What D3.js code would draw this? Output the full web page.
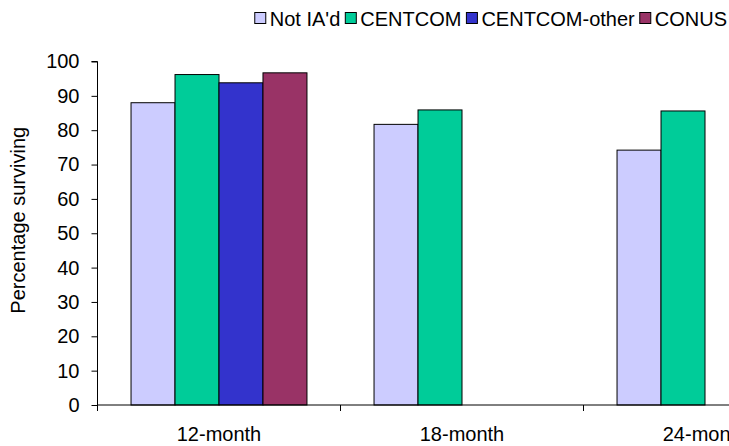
<!DOCTYPE html>
<html>
<head>
<meta charset="utf-8">
<script src="https://cdnjs.cloudflare.com/ajax/libs/d3/7.8.5/d3.min.js"></script>
<style>
  html, body { margin: 0; padding: 0; background: #fff; overflow: hidden; }
  svg { display: block; font-family: "Liberation Sans", Arial, sans-serif; }
</style>
</head>
<body>
<svg id="chart" width="729" height="446"></svg>
<script>
const categories = ["12-month", "18-month", "24-month"];
const seriesNames = ["Not IA'd", "CENTCOM", "CENTCOM-other", "CONUS"];
const seriesColors = ["#CCCCFF", "#00CC99", "#3333CC", "#993366"];
// values per series, aligned with categories (null = no bar)
const notIAd = [88.0, 81.7, 74.2];
const centcom = [96.2, 85.9, 85.6];
const centcomOther = [93.8, null, null];
const conus = [96.7, null, null];
const yTicks = [0, 10, 20, 30, 40, 50, 60, 70, 80, 90, 100];

const seriesValues = [notIAd, centcom, centcomOther, conus];
const FS = 20;

const svg = d3.select("#chart");
const pLeft = 97.5, pRight = 826.5, pTop = 61.5, pBottom = 405;

const x0 = d3.scaleBand().domain(categories).range([pLeft, pRight])
  .paddingInner(0.276).paddingOuter(0.138);
const x1 = d3.scaleBand().domain(seriesNames).range([0, x0.bandwidth()]).padding(0);
const y = d3.scaleLinear().domain([0, 100]).range([pBottom, pTop]);

// bars
const data = [];
categories.forEach((c, ci) => {
  seriesNames.forEach((s, si) => {
    const v = seriesValues[si][ci];
    if (v != null) data.push({ c, s, v, color: seriesColors[si] });
  });
});
svg.append("g").selectAll("rect").data(data).join("rect")
  .attr("x", d => x0(d.c) + x1(d.s))
  .attr("y", d => y(d.v))
  .attr("width", x1.bandwidth())
  .attr("height", d => y(0) - y(d.v))
  .attr("fill", d => d.color)
  .attr("stroke", "#000")
  .attr("stroke-width", 1);

// y axis
const yAxis = d3.axisLeft(y).tickValues(yTicks).tickSize(6).tickPadding(12);
const gy = svg.append("g").attr("transform", `translate(${pLeft},0)`).call(yAxis);
gy.select(".domain").attr("stroke", "#000").attr("d", `M-6,${pTop}H0V${pBottom}`);
gy.selectAll(".tick line").attr("stroke", "#000");
gy.selectAll(".tick text").attr("font-size", FS).attr("fill", "#000")
  .attr("font-family", "Liberation Sans, Arial, sans-serif");

// x axis
const gx = svg.append("g").attr("transform", `translate(0,${pBottom})`);
gx.append("line").attr("x1", pLeft).attr("x2", pRight).attr("y1", 0).attr("y2", 0).attr("stroke", "#000");
const edges = d3.range(categories.length + 1).map(i => pLeft + i * x0.step());
gx.selectAll("line.tk").data(edges).join("line").attr("class", "tk")
  .attr("x1", d => d).attr("x2", d => d).attr("y1", 0).attr("y2", 6).attr("stroke", "#000");
gx.selectAll("text").data(categories).join("text")
  .attr("x", d => x0(d) + x0.bandwidth() / 2)
  .attr("y", 36)
  .attr("text-anchor", "middle")
  .attr("font-size", FS)
  .attr("fill", "#000")
  .text(d => d);

// y axis title
svg.append("text")
  .attr("transform", `translate(25,${(pTop + pBottom) / 2 - 13}) rotate(-90)`)
  .attr("text-anchor", "middle")
  .attr("font-size", FS)
  .attr("fill", "#000")
  .text("Percentage surviving");

// legend
const lg = svg.append("g");
const items = lg.selectAll("g").data(seriesNames).join("g");
items.append("rect").attr("width", 11).attr("height", 11).attr("y", 12.5)
  .attr("fill", (d, i) => seriesColors[i]).attr("stroke", "#000").attr("stroke-width", 1);
items.append("text").attr("x", 15).attr("y", 25.5).attr("font-size", FS).attr("fill", "#000").text(d => d);
const widths = [];
items.each(function () { widths.push(this.querySelector("text").getComputedTextLength()); });
const gap = 5;
const total = d3.sum(widths) + widths.length * 15 + (widths.length - 1) * gap;
let xpos = 727 - total;
items.each(function (d, i) {
  d3.select(this).attr("transform", `translate(${xpos},0)`);
  xpos += 15 + widths[i] + gap;
});
</script>
</body>
</html>
